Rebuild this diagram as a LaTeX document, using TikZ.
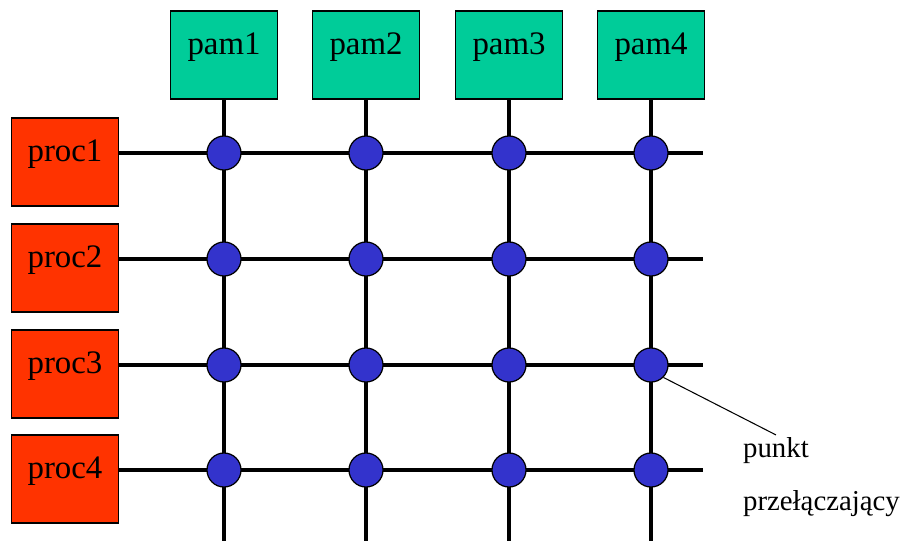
\documentclass[tikz,border=0pt]{standalone}
\usepackage{fontspec}
\setmainfont{Liberation Serif}
\usetikzlibrary{positioning}
\definecolor{pamgreen}{RGB}{0,204,153}
\definecolor{procred}{RGB}{255,51,0}
\definecolor{switchblue}{RGB}{51,51,204}

\begin{document}
\begin{tikzpicture}[x=0.02cm, y=-0.02cm,
    box/.style={draw, line width=0.8pt, minimum width=2.14cm, inner sep=0pt,
        text height=0.86cm, text depth=0.9cm,
        font=\fontsize{18.7}{22}\selectfont},
    pam/.style={box, fill=pamgreen},
    proc/.style={box, fill=procred},
    wire/.style={line width=2.8pt},
    switch/.style={circle, draw, line width=0.7pt, fill=switchblue,
        minimum size=0.68cm, inner sep=0pt},
    note/.style={font=\fontsize{16.4}{20}\selectfont, inner sep=1pt}]

    \useasboundingbox (0,0) rectangle (905,541);

    % memories on top, processors on the left
    \foreach \j/\x in {1/224,2/366,3/509,4/651}
        \node[pam] (pam\j) at (\x,55) {pam\j};
    \foreach \i/\y in {1/153,2/259,3/365,4/470}
        \node[proc] (proc\i) at (65,\y+9) {proc\i};

    % crossing points and loose line ends
    \foreach \i/\y in {1/153,2/259,3/365,4/470} {
        \foreach \j/\x in {1/224,2/366,3/509,4/651}
            \coordinate (c\i\j) at (\x,\y);
        \coordinate (e\i) at (703,\y);
    }
    \foreach \j/\x in {1/224,2/366,3/509,4/651}
        \coordinate (b\j) at (\x,541);

    % bus lines
    \foreach \i in {1,...,4}
        \draw[wire] (proc\i.east |- c\i1) -- (e\i);
    \foreach \j in {1,...,4}
        \draw[wire] (pam\j) -- (b\j);

    % switches
    \foreach \i in {1,...,4}
        \foreach \j in {1,...,4}
            \node[switch] (s\i\j) at (c\i\j) {};

    % label
    \node[note, anchor=base west] (punkt) at (741,457) {punkt};
    \node[note, anchor=base west] (przel) at (741,510) {przełączający};
    \draw[line width=0.6pt] (s34.south east) -- (punkt.north);

\end{tikzpicture}
\end{document}
